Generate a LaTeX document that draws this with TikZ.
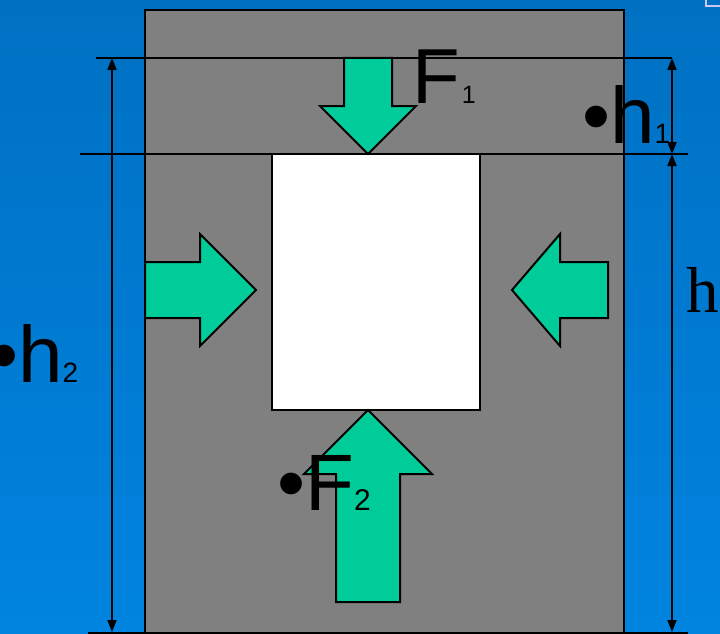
\documentclass[tikz,border=0pt]{standalone}
\usepackage{fontspec}
\setmainfont{Liberation Sans}
\newfontfamily\timesfont{Liberation Serif}
\usetikzlibrary{arrows.meta}
\definecolor{slideblue}{RGB}{0,112,194}
\definecolor{slidebluelow}{RGB}{0,132,224}
\definecolor{wallgray}{RGB}{128,128,128}
\definecolor{forcegreen}{RGB}{0,204,153}
\definecolor{framelilac}{RGB}{200,200,240}
\newcommand{\fsz}[1]{\fontsize{#1}{#1}\selectfont}

\begin{document}
\begin{tikzpicture}[x=1pt,y=-1pt,>={Triangle[length=12pt,width=9pt]},
  blockarrow/.style={draw,line width=2pt,fill=forcegreen,line join=miter},
  dimline/.style={line width=2pt},
  every node/.style={inner sep=0pt,anchor=base west}]
  \useasboundingbox (0,0) rectangle (720,634);
  % background and body
  \fill[top color=slideblue,bottom color=slidebluelow] (0,0) rectangle (720,634);
  \draw[framelilac,line width=2pt] (706,-5) rectangle (726,6);
  \draw[line width=2pt,fill=wallgray] (145,10) rectangle (624,640);
  \draw[line width=2pt,fill=white] (272,154) rectangle (480,410);
  % dimension lines
  \coordinate (topL) at (96,58);
  \coordinate (topR) at (672,58);
  \coordinate (midL) at (80,154);
  \coordinate (midR) at (688,154);
  \coordinate (botL) at (88,633);
  \coordinate (botR) at (688,633);
  \coordinate (h2top) at (112,58);
  \coordinate (h2bot) at (112,632);
  \coordinate (h1bot) at (672,154);
  \coordinate (hbot) at (672,632);
  \draw[dimline] (topL) -- (topR);
  \draw[dimline] (midL) -- (midR);
  \draw[dimline] (botL) -- (botR);
  \draw[dimline,<->] (h2top) -- (h2bot);
  \draw[dimline,<->] (topR) -- (h1bot);
  \draw[dimline,<->] (h1bot) -- (hbot);
  % forces
  \draw[blockarrow] (344,58) -- (392,58) -- (392,106) -- (416,106) -- (368,154) -- (320,106) -- (344,106) -- cycle;
  \draw[blockarrow] (145,262) -- (200,262) -- (200,234) -- (256,290) -- (200,346) -- (200,318) -- (145,318) -- cycle;
  \draw[blockarrow] (608,262) -- (560,262) -- (560,234) -- (512,290) -- (560,346) -- (560,318) -- (608,318) -- cycle;
  \draw[blockarrow] (336,602) -- (336,474) -- (304,474) -- (368,410) -- (432,474) -- (400,474) -- (400,602) -- cycle;
  % labels
  \node (F1) at (412,103) {\fsz{78}F\hspace{2pt}\fsz{25}1};
  \node (h1) at (582,143) {\fsz{80}•h\fsz{28}1};
  \node (h2) at (-10,382) {\fsz{80}•h\fsz{28}2};
  \node (F2) at (277,510) {\fsz{80}•F\fsz{30}2};
  \node (h) at (686,312) {\timesfont\fsz{65}h};
\end{tikzpicture}
\end{document}
